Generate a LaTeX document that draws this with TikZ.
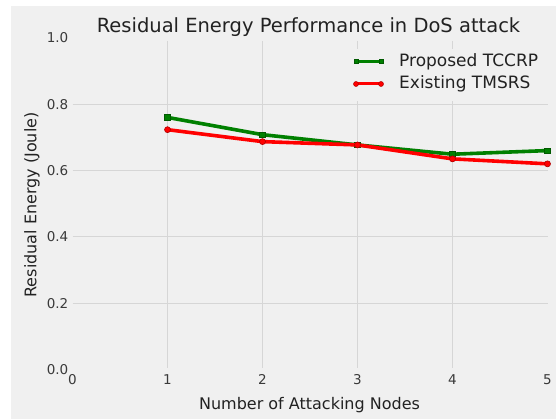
\documentclass[tikz,border=0pt]{standalone}
\usepackage{fontspec}
\setmainfont{DejaVu Sans}
\definecolor{bgc}{HTML}{F0F0F0}
\definecolor{gridc}{HTML}{D6D6D6}
\definecolor{tickc}{HTML}{3A3A3A}
\definecolor{txtc}{HTML}{222222}
\definecolor{gline}{HTML}{008000}
\definecolor{gedge}{HTML}{005A00}
\definecolor{rline}{HTML}{FF0000}
\definecolor{redge}{HTML}{B00000}
\tikzset{
  gridline/.style={gridc, line width=1.1pt},
  ticklab/.style={font=\fontsize{13.5}{15}\selectfont, text=tickc, inner sep=0pt},
  axlab/.style={font=\fontsize{16}{18}\selectfont, text=txtc, inner sep=0pt},
  leglab/.style={font=\fontsize{17}{19}\selectfont, text=txtc, inner sep=0pt},
  greenline/.style={gline, line width=3.6pt, line join=round},
  redline/.style={rline, line width=3.6pt, line join=round},
  legline/.style={line width=3pt},
  gmark/.style={fill=gline, draw=gedge, line width=0.6pt, minimum size=5.5pt, inner sep=0pt, rectangle},
  rmark/.style={fill=rline, draw=redge, line width=0.6pt, minimum size=6pt, inner sep=0pt, circle},
  lgmark/.style={fill=gline, draw=gedge, line width=0.5pt, minimum size=4.5pt, inner sep=0pt, rectangle},
  lrmark/.style={fill=rline, draw=redge, line width=0.5pt, minimum size=5pt, inner sep=0pt, circle},
}
\begin{document}
\begin{tikzpicture}[x=1pt, y=-1pt]
\useasboundingbox (0,0) rectangle (556,419);
\fill[white] (0,0) rectangle (556,419);
\fill[bgc] (11,6) rectangle (556,419);
% grid
\foreach \i in {1,2,3,4} {
  \draw[gridline] ({72.5+95*\i},41) -- ({72.5+95*\i},368);
}
\foreach \v in {0.2,0.4,0.6,0.8} {
  \draw[gridline] (72.5,{369.5-331.7*\v}) -- (548,{369.5-331.7*\v});
}
% legend background hides grid
\fill[bgc] (345,49) rectangle (551,101);
% tick labels
\foreach \i in {0,1,2,3,4,5} {
  \node[ticklab] (xt\i) at ({72.5+95*\i},379.5) {\i};
}
\foreach \v/\n in {0.0/a,0.2/b,0.4/c,0.6/d,0.8/e,1.0/f} {
  \node[ticklab, anchor=east] (yt\n) at (68.5,{369.5-331.7*\v}) {\v};
}
% labels
\node[axlab] (xlabel) at (309.5,405.5) {Number of Attacking Nodes};
\node[axlab, rotate=90] (ylabel) at (32,205) {Residual Energy (Joule)};
\node[font=\fontsize{19.5}{21}\selectfont, text=txtc, inner sep=0pt] (title) at (308.5,27) {Residual Energy Performance in DoS attack};
% data coordinates
\coordinate (g1) at ({72.5+95*1},{369.5-331.7*0.76});
\coordinate (g2) at ({72.5+95*2},{369.5-331.7*0.708});
\coordinate (g3) at ({72.5+95*3},{369.5-331.7*0.677});
\coordinate (g4) at ({72.5+95*4},{369.5-331.7*0.649});
\coordinate (g5) at ({72.5+95*5},{369.5-331.7*0.66});
\coordinate (r1) at ({72.5+95*1},{369.5-331.7*0.723});
\coordinate (r2) at ({72.5+95*2},{369.5-331.7*0.687});
\coordinate (r3) at ({72.5+95*3},{369.5-331.7*0.677});
\coordinate (r4) at ({72.5+95*4},{369.5-331.7*0.635});
\coordinate (r5) at ({72.5+95*5},{369.5-331.7*0.62});
\draw[greenline] (g1) -- (g2) -- (g3) -- (g4) -- (g5);
\foreach \k in {1,...,5} { \node[gmark] (gm\k) at (g\k) {}; }
\draw[redline] (r1) -- (r2) -- (r3) -- (r4) -- (r5);
\foreach \k in {1,...,5} { \node[rmark] (rm\k) at (r\k) {}; }
% legend
\coordinate (lga) at (356,61.5);
\coordinate (lgb) at (381,61.5);
\coordinate (lra) at (356,84);
\coordinate (lrb) at (381,84);
\draw[greenline, legline] (lga) -- (lgb);
\node[lgmark] (lgma) at (lga) {};
\node[lgmark] (lgmb) at (lgb) {};
\draw[redline, legline] (lra) -- (lrb);
\node[lrmark] (lrma) at (lra) {};
\node[lrmark] (lrmb) at (lrb) {};
\node[leglab, anchor=west] (leg1) at (399,61.5) {Proposed TCCRP};
\node[leglab, anchor=west] (leg2) at (399,84) {Existing TMSRS};
\end{tikzpicture}
\end{document}
